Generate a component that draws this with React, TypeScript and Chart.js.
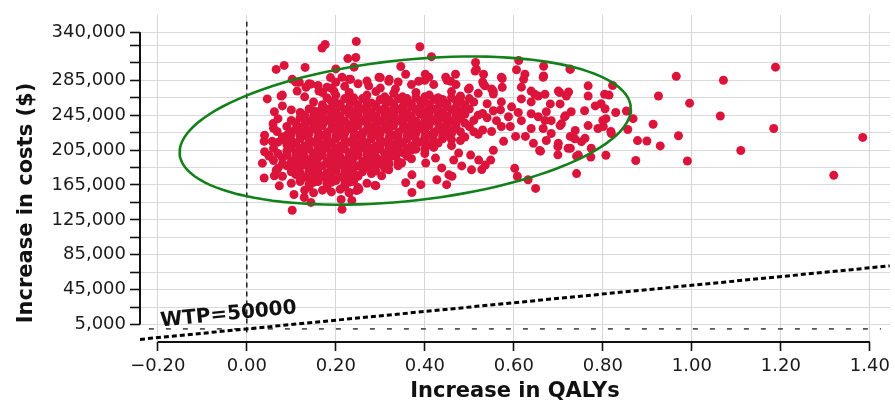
import { useEffect, useRef } from "react";
import { Chart, registerables } from "chart.js";

Chart.register(...registerables);

// ---- axis definitions ----
const QALY_MIN = -0.24;
const QALY_MAX = 1.445;
const COST_MIN = -15000;
const COST_MAX = 360000;
const qalyTicks = [-0.2, 0, 0.2, 0.4, 0.6, 0.8, 1.0, 1.2, 1.4];
const costTicks = [
  5000, 25000, 45000, 65000, 85000, 105000, 125000, 145000, 165000, 185000,
  205000, 225000, 245000, 265000, 285000, 305000, 325000, 340000,
];
const costLabelled = [5000, 45000, 85000, 125000, 165000, 205000, 245000, 285000, 340000];

const WTP = 50000; // willingness-to-pay threshold ($ per QALY)
const xTitle = "Increase in QALYs";
const yTitle = "Increase in costs ($)";
const wtpLabel = "WTP=50000";

// ---- 95% confidence ellipse (data units) ----
const ellipseCentre = { qaly: 0.356, cost: 227300 };
const ellipseRadii = { qaly: 0.507, costCos: 24900, costSin: 81200 };

// ---- simulated ICER pairs: [increase in QALYs, increase in costs ($1000)] ----
const simulations: [number, number][] = [
  // far right outliers
  [1.188, 300], [1.384, 219.5], [1.319, 176], [1.184, 229.7], [1.11, 204.5], [1.071, 285],
  [1.064, 244], [0.995, 258.7], [0.99, 192.4], [0.965, 289.5], [0.97, 221.4], [0.925, 267],
  [0.929, 209.7], [0.913, 234.5], [0.899, 215.3], [0.878, 215.8], [0.874, 193], [0.868, 241],
  [0.853, 249.7], [0.856, 228.6], [0.829, 248], [0.822, 279], [0.807, 199], [0.819, 224],
  [0.804, 269], [0.814, 268], [0.796, 258], [0.8, 239], [0.789, 229.7], [0.767, 278.6],
  [0.767, 267], [0.773, 197], [0.774, 207], [0.741, 178], [0.741, 198], [0.726, 298],
  [0.759, 250], [0.767, 233], [0.737, 218], [0.752, 214.6], [0.722, 207], [0.699, 199.5],
  [0.707, 235], [0.714, 243], [0.703, 271], [0.718, 267], [0.667, 290], [0.667, 301],
  [0.611, 307.6], [0.625, 292], [0.622, 286], [0.606, 297], [0.574, 287], [0.574, 277],
  [0.649, 161], [0.632, 171], [0.602, 184], [0.608, 175], [0.658, 204.5], [0.699, 209],
  [0.67, 239], [0.647, 269], [0.67, 269],
  // right part of cloud
  [0.572, 288.4], [0.805, 252.3], [0.807, 241], [0.801, 232], [0.783, 255.6], [0.818, 226.3],
  [0.745, 199.2], [0.727, 207], [0.7, 212.7], [0.673, 216], [0.66, 203.7], [0.644, 212.7],
  [0.626, 220.6], [0.604, 220.6], [0.577, 215], [0.554, 204.8], [0.548, 193.5], [0.572, 232],
  [0.592, 232], [0.617, 238.7], [0.639, 246.6], [0.655, 243.2], [0.673, 248.9], [0.684, 238.7],
  [0.704, 233], [0.716, 244.4], [0.729, 248.9], [0.704, 257.9], [0.682, 257.9], [0.655, 266.9],
  [0.639, 260.2], [0.617, 263.6], [0.595, 254.5], [0.572, 260.2], [0.554, 269.2], [0.554, 250],
  [0.588, 243.2], [0.723, 271.5], [0.7, 272.6], [0.617, 277.1], [0.639, 272.6], [0.738, 227.4],
  [0.76, 218.4], [0.727, 220.6], [0.684, 224], [0.666, 229.7], [0.639, 229.7], [0.55, 226.3],
  [0.561, 238.7], [0.727, 297.4], [0.666, 288.4],
  // upper fringe
  [0.169, 322], [0.176, 326], [0.246, 329.4], [0.389, 323.4], [0.415, 312], [0.066, 297.4],
  [0.084, 302], [0.131, 299.7], [0.227, 309.8], [0.245, 311], [0.241, 300], [0.2, 298],
  [0.346, 300.8], [0.514, 305.3], [0.532, 291.8], [0.516, 297.4], [0.297, 288.4], [0.319, 283.9],
  [0.357, 291.8], [0.386, 283.9], [0.409, 288.4], [0.447, 288.4], [0.469, 291.8], [0.458, 283.9],
  [0.498, 274.8], [0.532, 280.5], [0.554, 272.6], [0.102, 286], [0.118, 282.7], [0.144, 280.5],
  [0.162, 272.6], [0.18, 277], [0.2, 282.7], [0.214, 288.4], [0.23, 286], [0.196, 272.6],
  [0.113, 272.6], [0.133, 277], [0.3, 288], [0.334, 275], [0.401, 292], [0.274, 278.6],
  [0.188, 288], [0.233, 286], [0.535, 278.6], [0.513, 295.5],
  // left fringe
  [0.046, 263.6], [0.077, 267], [0.08, 255.6], [0.062, 248.9], [0.059, 235.3], [0.068, 226.3],
  [0.039, 215], [0.057, 215], [0.035, 190], [0.05, 199], [0.039, 173], [0.062, 175.5],
  [0.073, 164], [0.066, 182],
  // lower fringe
  [0.102, 136], [0.106, 154], [0.129, 150.6], [0.144, 145], [0.212, 148.4], [0.23, 156.3],
  [0.247, 158.5], [0.236, 147.3], [0.214, 137], [0.252, 160], [0.288, 164.5], [0.29, 164.2],
  [0.303, 175.5], [0.319, 182.3], [0.357, 167.6], [0.371, 156.3], [0.391, 165.3], [0.371, 176.6],
  [0.427, 171], [0.438, 184.5], [0.454, 176.6], [0.449, 165.3], [0.465, 193.5], [0.483, 186.8],
  [0.505, 182.3], [0.503, 199.2], [0.521, 193.5], [0.536, 187.9], [0.476, 201.5], [0.424, 195.8],
  [0.402, 190.2], [0.348, 190.2], [0.335, 198.1], [0.461, 175], [0.528, 182.6],
  // core rows
  [0.11, 283], [0.14, 281], [0.16, 279], [0.19, 276], [0.22, 278], [0.25, 281], [0.27, 284],
  [0.23, 271], [0.17, 271], [0.3, 276], [0.34, 283], [0.32, 286], [0.37, 280], [0.4, 285],
  [0.42, 280], [0.45, 285], [0.47, 280], [0.46, 272], [0.5, 276], [0.53, 283], [0.55, 275],
  [0.08, 268], [0.13, 266], [0.2, 268], [0.24, 265], [0.27, 268], [0.29, 272], [0.31, 266],
  [0.33, 270], [0.35, 266], [0.38, 271], [0.41, 268], [0.43, 265], [0.48, 267], [0.52, 270],
  [0.18, 265], [0.22, 264], [0.26, 264], [0.3, 263], [0.34, 264], [0.38, 265], [0.42, 263],
  [0.46, 265], [0.5, 264], [0.32, 262], [0.36, 264], [0.4, 266], [0.44, 263], [0.48, 265],
  [0.15, 260], [0.17, 257], [0.19, 261], [0.21, 258], [0.23, 262], [0.25, 257], [0.27, 260],
  [0.29, 257], [0.31, 261], [0.33, 258], [0.35, 262], [0.37, 258], [0.39, 261], [0.41, 257],
  [0.43, 261], [0.45, 258], [0.47, 262], [0.49, 257], [0.51, 260], [0.54, 258],
  [0.2, 259], [0.24, 260], [0.28, 259], [0.32, 260], [0.36, 259], [0.4, 260], [0.44, 259],
  [0.48, 260],
  [0.17, 254], [0.21, 255], [0.25, 253], [0.29, 255], [0.33, 253], [0.37, 255], [0.41, 253],
  [0.45, 255], [0.49, 254], [0.19, 253], [0.23, 254], [0.27, 255], [0.31, 253], [0.35, 254],
  [0.39, 255], [0.43, 253], [0.47, 254],
  [0.1, 251], [0.12, 248], [0.14, 252], [0.16, 249], [0.18, 252], [0.2, 248], [0.22, 251],
  [0.24, 249], [0.26, 252], [0.28, 248], [0.3, 251], [0.32, 249], [0.34, 252], [0.36, 248],
  [0.38, 251], [0.4, 249], [0.42, 252], [0.44, 248], [0.46, 251], [0.48, 249], [0.5, 252],
  [0.53, 247], [0.57, 251], [0.61, 248], [0.15, 250], [0.19, 250], [0.23, 250], [0.27, 250],
  [0.31, 250], [0.35, 250], [0.39, 250], [0.43, 250], [0.47, 250],
  [0.13, 245], [0.17, 246], [0.21, 244], [0.25, 246], [0.29, 244], [0.33, 246], [0.37, 244],
  [0.41, 246], [0.45, 244], [0.52, 245], [0.15, 244], [0.19, 245], [0.23, 246], [0.27, 245],
  [0.31, 244], [0.35, 245], [0.39, 246], [0.43, 245], [0.47, 244], [0.49, 246],
  [0.07, 241], [0.1, 239], [0.12, 242], [0.14, 238], [0.16, 241], [0.18, 239], [0.2, 242],
  [0.22, 238], [0.24, 241], [0.26, 239], [0.28, 242], [0.3, 238], [0.32, 241], [0.34, 239],
  [0.36, 242], [0.38, 238], [0.4, 241], [0.42, 239], [0.44, 242], [0.46, 238], [0.48, 241],
  [0.51, 239], [0.54, 242], [0.13, 240], [0.17, 240], [0.21, 240], [0.25, 240], [0.29, 240],
  [0.33, 240], [0.37, 240], [0.41, 240], [0.45, 240],
  [0.11, 236], [0.15, 235], [0.19, 236], [0.23, 234], [0.27, 236], [0.31, 234], [0.35, 236],
  [0.39, 234], [0.43, 236], [0.47, 234], [0.13, 234], [0.17, 235], [0.21, 236], [0.25, 235],
  [0.29, 236], [0.33, 234], [0.37, 235], [0.41, 236], [0.45, 235], [0.49, 236],
  [0.06, 230], [0.09, 232], [0.11, 229], [0.13, 232], [0.15, 230], [0.17, 233], [0.19, 229],
  [0.21, 232], [0.23, 230], [0.25, 233], [0.27, 229], [0.29, 232], [0.31, 230], [0.33, 233],
  [0.35, 229], [0.37, 232], [0.39, 230], [0.41, 233], [0.43, 229], [0.45, 232], [0.47, 230],
  [0.5, 232], [0.53, 228], [0.12, 231], [0.16, 231], [0.2, 231], [0.24, 231], [0.28, 231],
  [0.32, 231], [0.36, 231], [0.4, 231], [0.44, 231],
  [0.1, 226], [0.14, 227], [0.18, 225], [0.22, 227], [0.26, 225], [0.3, 227], [0.34, 225],
  [0.38, 227], [0.42, 225], [0.46, 227], [0.51, 226], [0.12, 225], [0.16, 226], [0.2, 227],
  [0.24, 226], [0.28, 225], [0.32, 226], [0.36, 227], [0.4, 226], [0.44, 225], [0.48, 226],
  [0.04, 222], [0.08, 220], [0.1, 223], [0.12, 221], [0.14, 224], [0.16, 220], [0.18, 223],
  [0.2, 221], [0.22, 224], [0.24, 220], [0.26, 223], [0.28, 221], [0.3, 224], [0.32, 220],
  [0.34, 223], [0.36, 221], [0.38, 224], [0.4, 220], [0.42, 223], [0.44, 221], [0.46, 224],
  [0.49, 220], [0.52, 223], [0.09, 222], [0.13, 222], [0.17, 222], [0.21, 222], [0.25, 222],
  [0.29, 222], [0.33, 222], [0.37, 222], [0.41, 222], [0.45, 222],
  [0.08, 217], [0.12, 218], [0.16, 216], [0.2, 218], [0.24, 216], [0.28, 218], [0.32, 216],
  [0.36, 218], [0.4, 216], [0.44, 218], [0.48, 216], [0.1, 216], [0.14, 217], [0.18, 218],
  [0.22, 217], [0.26, 216], [0.3, 217], [0.34, 218], [0.38, 217], [0.42, 216], [0.46, 217],
  [0.07, 214], [0.09, 211], [0.11, 213], [0.13, 210], [0.15, 214], [0.17, 211], [0.19, 213],
  [0.21, 210], [0.23, 214], [0.25, 211], [0.27, 213], [0.29, 210], [0.31, 214], [0.33, 211],
  [0.35, 213], [0.37, 210], [0.39, 214], [0.41, 211], [0.43, 213], [0.46, 210],
  [0.1, 212], [0.14, 212], [0.18, 212], [0.22, 212], [0.26, 212], [0.3, 212], [0.34, 212],
  [0.38, 212], [0.42, 212],
  [0.06, 207], [0.1, 208], [0.14, 206], [0.18, 208], [0.22, 206], [0.26, 208], [0.3, 206],
  [0.34, 208], [0.38, 206], [0.42, 208], [0.12, 207], [0.16, 208], [0.2, 207], [0.24, 206],
  [0.28, 207], [0.32, 208], [0.36, 207], [0.4, 206],
  [0.04, 203], [0.07, 201], [0.09, 204], [0.11, 202], [0.13, 205], [0.15, 201], [0.17, 204],
  [0.19, 202], [0.21, 205], [0.23, 201], [0.25, 204], [0.27, 202], [0.29, 205], [0.31, 201],
  [0.33, 204], [0.35, 202], [0.37, 205], [0.4, 201], [0.12, 203], [0.16, 203], [0.2, 203],
  [0.24, 203], [0.28, 203], [0.32, 203],
  [0.05, 198], [0.09, 199], [0.13, 197], [0.17, 199], [0.21, 197], [0.25, 199], [0.29, 197],
  [0.33, 199], [0.36, 198], [0.11, 198], [0.15, 199], [0.19, 198], [0.23, 197], [0.27, 199],
  [0.31, 198],
  [0.06, 193], [0.08, 196], [0.1, 192], [0.12, 195], [0.14, 193], [0.16, 196], [0.18, 192],
  [0.2, 195], [0.22, 193], [0.24, 196], [0.26, 192], [0.28, 195], [0.3, 193], [0.32, 196],
  [0.34, 192], [0.37, 195], [0.11, 194], [0.15, 194], [0.19, 194], [0.23, 194], [0.27, 194],
  [0.31, 194],
  [0.08, 189], [0.12, 190], [0.16, 188], [0.2, 190], [0.24, 188], [0.28, 190], [0.32, 189],
  [0.1, 188], [0.14, 189], [0.18, 190], [0.22, 189], [0.26, 188], [0.3, 189],
  [0.07, 184], [0.09, 187], [0.11, 185], [0.13, 188], [0.15, 184], [0.17, 187], [0.19, 185],
  [0.21, 188], [0.23, 184], [0.25, 187], [0.27, 185], [0.29, 188], [0.31, 184], [0.34, 187],
  [0.12, 186], [0.16, 186], [0.2, 186], [0.24, 186], [0.28, 186],
  [0.1, 180], [0.14, 181], [0.18, 179], [0.22, 181], [0.26, 180], [0.29, 181], [0.12, 179],
  [0.16, 180], [0.2, 181], [0.24, 179],
  [0.08, 175], [0.11, 177], [0.13, 174], [0.15, 177], [0.17, 175], [0.19, 178], [0.21, 174],
  [0.23, 177], [0.25, 175], [0.28, 178], [0.14, 176], [0.18, 176], [0.22, 176],
  [0.12, 171], [0.16, 172], [0.2, 171], [0.24, 172], [0.14, 172], [0.18, 171], [0.22, 172],
  [0.1, 167], [0.12, 169], [0.14, 166], [0.16, 169], [0.18, 167], [0.2, 170], [0.22, 166],
  [0.24, 169], [0.27, 167], [0.15, 168], [0.19, 168], [0.23, 168],
  [0.14, 163], [0.18, 162], [0.22, 163], [0.25, 162],
  [0.13, 159], [0.15, 156], [0.17, 159], [0.19, 157], [0.21, 160], [0.23, 156],
];

const FONT = "'DejaVu Sans', sans-serif";

function fmtQaly(v: number): string {
  const s = Math.abs(v).toFixed(2);
  return v < -1e-9 ? "\u2212" + s : s;
}

const overlayPlugin = {
  id: "overlay",
  afterDraw(chart: any) {
    const { ctx, chartArea, scales } = chart;
    const x = scales.x;
    const y = scales.y;
    ctx.save();
    // axis lines (spanning first to last tick)
    ctx.strokeStyle = "#111";
    ctx.lineWidth = 2;
    ctx.beginPath();
    ctx.moveTo(chartArea.left, y.getPixelForValue(costTicks[0]));
    ctx.lineTo(chartArea.left, y.getPixelForValue(costTicks[costTicks.length - 1]));
    ctx.moveTo(x.getPixelForValue(qalyTicks[0]), chartArea.bottom);
    ctx.lineTo(x.getPixelForValue(qalyTicks[qalyTicks.length - 1]), chartArea.bottom);
    ctx.stroke();

    // axis titles
    ctx.fillStyle = "#111";
    ctx.font = `bold 21px ${FONT}`;
    ctx.textAlign = "center";
    ctx.textBaseline = "alphabetic";
    ctx.fillText(xTitle, (chartArea.left + chartArea.right) / 2, 397);
    ctx.save();
    ctx.translate(32, 203);
    ctx.rotate(-Math.PI / 2);
    ctx.fillText(yTitle, 0, 0);
    ctx.restore();

    // WTP label, rotated along the WTP line
    const x1 = x.getPixelForValue(QALY_MIN);
    const y1 = y.getPixelForValue(WTP * QALY_MIN);
    const x2 = x.getPixelForValue(QALY_MAX);
    const y2 = y.getPixelForValue(WTP * QALY_MAX);
    const ang = Math.atan2(y2 - y1, x2 - x1);
    ctx.save();
    ctx.translate(x.getPixelForValue(-0.04), y.getPixelForValue(10500));
    ctx.rotate(ang);
    ctx.font = `bold 20px ${FONT}`;
    ctx.fillText(wtpLabel, 0, 0);
    ctx.restore();
    ctx.restore();
  },
};

export default function App() {
  const ref = useRef<HTMLCanvasElement | null>(null);

  useEffect(() => {
    if (!ref.current) return;
    const ellipse: { x: number; y: number }[] = [];
    for (let i = 0; i <= 120; i++) {
      const t = (i / 120) * Math.PI * 2;
      ellipse.push({
        x: ellipseCentre.qaly + ellipseRadii.qaly * Math.cos(t),
        y: ellipseCentre.cost + ellipseRadii.costCos * Math.cos(t) + ellipseRadii.costSin * Math.sin(t),
      });
    }
    const chart = new Chart(ref.current, {
      type: "scatter",
      data: {
        datasets: [
          {
            type: "line",
            data: ellipse,
            borderColor: "#13801a",
            borderWidth: 2.6,
            pointRadius: 0,
            fill: false,
            tension: 0,
          } as any,
          {
            data: simulations.map(([q, c]) => ({ x: q, y: c * 1000 })),
            backgroundColor: "#dc143c",
            borderWidth: 0,
            pointRadius: 4.5,
          },
          {
            type: "line",
            data: [
              { x: QALY_MIN, y: WTP * QALY_MIN },
              { x: QALY_MAX, y: WTP * QALY_MAX },
            ],
            borderColor: "#000",
            borderWidth: 3,
            borderDash: [5, 3],
            pointRadius: 0,
          } as any,
          {
            type: "line",
            data: [
              { x: -0.22, y: 0 },
              { x: 1.425, y: 0 },
            ],
            borderColor: "#555",
            borderWidth: 1.8,
            borderDash: [5, 12],
            pointRadius: 0,
          } as any,
          {
            type: "line",
            data: [
              { x: 0, y: -4000 },
              { x: 0, y: 352000 },
            ],
            borderColor: "#111",
            borderWidth: 1.4,
            borderDash: [5, 4],
            pointRadius: 0,
          } as any,
        ],
      },
      options: {
        responsive: false,
        animation: false,
        devicePixelRatio: 1,
        layout: { padding: { top: 10, right: 4, left: 0, bottom: 0 } },
        plugins: { legend: { display: false }, tooltip: { enabled: false } },
        scales: {
          x: {
            type: "linear",
            min: QALY_MIN,
            max: QALY_MAX,
            afterBuildTicks: (s: any) => {
              s.ticks = qalyTicks.map((v) => ({ value: v }));
            },
            afterFit: (s: any) => {
              s.height = 63;
            },
            ticks: {
              callback: (v: any) => fmtQaly(Number(v)),
              font: { family: FONT, size: 18 },
              color: "#1a1a1a",
              padding: 5,
              autoSkip: false,
              maxRotation: 0,
            },
            grid: {
              color: "#d6d6d6",
              lineWidth: 1,
              tickLength: 9,
              tickColor: "#111",
              tickWidth: 1.6,
            },
            border: { display: false },
          },
          y: {
            type: "linear",
            min: COST_MIN,
            max: COST_MAX,
            afterBuildTicks: (s: any) => {
              s.ticks = costTicks.map((v) => ({ value: v }));
            },
            afterFit: (s: any) => {
              s.width = 140;
            },
            ticks: {
              callback: (v: any) =>
                costLabelled.includes(Number(v)) ? Number(v).toLocaleString("en-US") : "",
              font: { family: FONT, size: 18 },
              color: "#1a1a1a",
              padding: 4,
              autoSkip: false,
            },
            grid: {
              color: "#d9d9d9",
              lineWidth: 1,
              tickLength: 10,
              tickColor: "#111",
              tickWidth: 1.6,
            },
            border: { display: false },
          },
        },
      },
      plugins: [overlayPlugin],
    });
    return () => chart.destroy();
  }, []);

  return (
    <div style={{ position: "fixed", left: 0, top: 0, width: 895, height: 405, background: "#fff" }}>
      <canvas ref={ref} width={895} height={405} />
    </div>
  );
}
